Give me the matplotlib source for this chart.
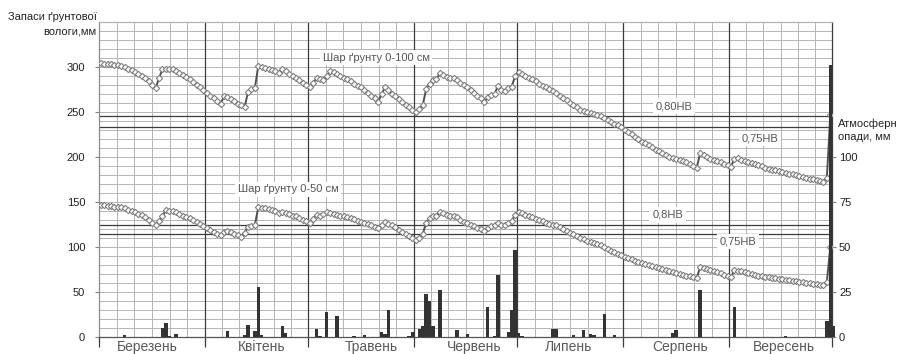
import numpy as np
import matplotlib
matplotlib.use("Agg")
import matplotlib.pyplot as plt

plt.rcParams['font.family'] = ['Liberation Sans', 'DejaVu Sans']

# --- data -----------------------------------------------------------------
months = ['Березень', 'Квітень', 'Травень', 'Червень', 'Липень', 'Серпень', 'Вересень']
month_days = [31, 30, 31, 30, 31, 31, 30]
month_label_pos = [14.2, 47.5, 79.6, 109.5, 137.2, 169.8, 200.1]

# daily soil-water storage, mm (1 March ... 30 September)
layer_100 = [
    304, 303.5, 303, 302.5, 302, 301.5, 301, 300, 298, 296, 294, 292, 290, 288, 284, 280,
    276, 287, 297, 298, 297, 297, 295, 293, 291, 289, 286, 283, 280, 277, 274, 271,
    268, 265, 262, 259, 267, 266, 264, 262, 259, 257, 255, 272, 275, 276, 301, 300,
    299, 297, 296, 295, 293, 297, 295, 292, 290, 287, 285, 282, 280, 277, 282, 287,
    286, 285, 290, 295, 294, 292, 290, 288, 286, 284, 281, 279, 277, 274, 271, 268,
    265, 261, 270, 277, 274, 270, 267, 264, 261, 258, 255, 252, 250, 253, 257, 275,
    281, 285, 286, 293, 291, 289, 287, 288, 285, 282, 280, 277, 274, 271, 268, 265,
    261, 266, 269, 270, 279, 274, 273, 276, 278, 290, 294, 292, 290, 288, 286, 284,
    281, 279, 277, 275, 273, 271, 268, 265, 263, 260, 257, 255, 252, 251, 250, 249,
    248, 247, 245, 243, 241, 239, 237, 235, 233, 230, 228, 225, 222, 220, 217, 215,
    213, 211, 208, 206, 204, 202, 200, 199, 198, 197, 196, 194, 192, 190, 188, 204,
    202, 200, 198, 197, 195, 194, 192, 191, 189, 198, 199, 197, 196, 194, 193, 192,
    191, 190, 188, 187, 186, 185, 184, 183, 182, 181, 180.5, 180, 179, 178, 177, 176,
    175, 174, 173, 172.5, 177, 246,
]
layer_50 = [
    147, 146.5, 146, 145.5, 145, 144.5, 144, 143, 141.5, 140, 138.5, 137, 135.5, 133, 130, 127,
    124.5, 129, 134, 141, 140.5, 140, 138.5, 137, 135, 133.5, 132, 130, 128, 126, 123.5, 121,
    119, 117, 115, 113, 117, 118, 116.5, 115, 113, 111.5, 116, 122.5, 123.5, 124.5, 144, 143.5,
    143, 142, 141, 139.5, 138, 139, 138, 136.5, 135, 134, 132, 130.5, 129, 127, 131, 136,
    135, 137, 139, 138, 137, 136, 135, 134, 133, 132, 131, 129, 128, 127, 125.5, 124,
    122.5, 121, 125, 128, 126, 124, 122, 119.5, 117, 115, 112.5, 110, 108, 110, 114, 127,
    132, 134, 135, 139, 137.5, 136, 134.5, 135, 133, 130, 128, 126.5, 125, 123, 121.5, 120,
    118, 121, 123, 124, 127, 125, 124.5, 127, 129, 136, 139, 137.5, 136, 134.5, 133, 131.5,
    130, 128.5, 127, 126, 125, 124, 122, 120, 118, 116, 114, 112, 110, 108.5, 107, 106,
    104.5, 103, 102, 100, 98, 96, 94.5, 92.5, 91, 89.5, 88, 86.5, 85, 83.5, 82, 81,
    80, 79, 78, 77, 76, 74.5, 73.5, 72.5, 71.5, 70.5, 69.5, 68.5, 67.5, 66.5, 65.5, 78,
    77, 76, 74.5, 73, 72, 71, 69.5, 68, 67, 74.5, 74, 73, 72, 71, 70, 69,
    68.5, 68, 67, 66.5, 66, 65.5, 65, 64.5, 63.5, 63, 62.5, 62, 61.5, 61, 60.5, 60,
    59.5, 59, 58.5, 58, 61.5, 100,
]

# daily precipitation, mm (day index from 1 March, amount)
rain_day = [7, 18, 19, 20, 22, 37, 42, 43, 45, 46, 47, 53, 54, 63, 64, 66, 69, 74, 77,
            82, 83, 84, 90, 91, 93, 94, 95, 96, 97, 99, 104, 107, 113, 115, 116, 119, 120,
            121, 122, 123, 132, 133, 138, 141, 143, 144, 147, 150, 167, 168, 175, 185, 200,
            212, 213, 214]
rain_mm = [1.0, 5.1, 8.0, 0.7, 2.0, 3.5, 1.0, 6.9, 3.5, 27.9, 1.3, 6.3, 2.2, 4.7, 0.7, 14.0,
           11.9, 0.5, 1.0, 3.2, 1.7, 15.3, 0.7, 3.2, 4.7, 6.5, 24.2, 20.3, 6.0, 26.3, 4.1, 1.7,
           16.8, 0.6, 34.3, 2.8, 14.9, 48.4, 2.4, 0.5, 4.7, 4.7, 1.1, 4.1, 1.9, 1.5, 13.0, 1.5,
           2.6, 4.1, 26.3, 16.8, 0.9, 9.3, 151.0, 6.0]

# field-capacity thresholds, mm
thr_100 = {'0,80НВ': 245, '0,75НВ': 233}
thr_50 = {'0,8НВ': 124.5, '0,75НВ': 114.5}

# --- figure ---------------------------------------------------------------
W, H = 898, 354
fig = plt.figure(figsize=(W / 100, H / 100), dpi=100)
x0, x1, y0, y1 = 99, 832, 337.3, 21.6
ax = fig.add_axes([x0 / W, (H - y0) / H, (x1 - x0) / W, (y0 - y1) / H])

total_days = sum(month_days)
bounds = np.concatenate([[0], np.cumsum(month_days)])

ax.set_xlim(0, total_days)
ax.set_ylim(0, 350)

grid_c = '#b4b4b4'
dark_c = '#3c3c3c'

# horizontal grid every 10 mm
for v in range(10, 350, 10):
    ax.axhline(v, color=grid_c, lw=0.7, zorder=1)
# vertical grid: six divisions per month, darker month boundaries
for m in range(len(month_days)):
    for k in range(1, 6):
        ax.axvline(bounds[m] + k * month_days[m] / 6, color=grid_c, lw=0.7, zorder=1)
for b in bounds[1:-1]:
    ax.axvline(b, color=dark_c, lw=0.9, zorder=1.5)

# threshold lines
for v in list(thr_100.values()) + list(thr_50.values()):
    ax.axhline(v, color=dark_c, lw=0.9, zorder=1.5)

# soil-water curves
xd = np.arange(len(layer_100)) + 0.5
for series in (layer_100, layer_50):
    ax.plot(xd, series, color='#505050', lw=1.4, marker='D', ms=3.2,
            mfc='white', mec='#808080', mew=0.8, zorder=3)

# axes styling
ax.set_yticks(range(0, 301, 50))
ax.tick_params(axis='y', direction='out', length=3, width=0.8, color='#808080',
               labelsize=8, labelcolor='#222222', pad=7)
ax.set_xticks(bounds)
ax.set_xticklabels([])
ax.tick_params(axis='x', direction='out', length=7, width=0.9, color=dark_c)
for side, c in (('left', '#8a8a8a'), ('top', '#b4b4b4'), ('bottom', '#555555'), ('right', dark_c)):
    ax.spines[side].set_color(c)
    ax.spines[side].set_linewidth(0.9)

for name, pos in zip(months, month_label_pos):
    ax.text(pos, -11, name, ha='center', va='center', fontsize=10, color='#5a5a5a',
            clip_on=False)

# labels on the curves and thresholds
box = dict(boxstyle='square,pad=0.25', fc='white', ec='none')
lab_kw = dict(ha='center', va='center', fontsize=8, color='#555555', bbox=box, zorder=4)
ax.text(80.9, 310, 'Шар ґрунту 0-100 см', **lab_kw)
ax.text(55.2, 164, 'Шар ґрунту 0-50 см', **lab_kw)
ax.text(167.9, 256.4, '0,80НВ', **lab_kw)
ax.text(193.0, 220.6, '0,75НВ', **lab_kw)
ax.text(166.0, 135.6, '0,8НВ', **lab_kw)
ax.text(186.6, 106.0, '0,75НВ', **lab_kw)

fig.text(96.5 / W, 1 - 16.7 / H, 'Запаси ґрунтової', ha='right', va='center',
         fontsize=8, color='#222222')
fig.text(96.5 / W, 1 - 32.0 / H, 'вологи,мм', ha='right', va='center',
         fontsize=8, color='#222222')

# precipitation on the secondary axis
ax2 = ax.twinx()
ax2.set_ylim(0, 175)
ax2.bar(np.array(rain_day) + 0.5, rain_mm, width=1.0, color='#333333', zorder=5,
        clip_on=False)
ax2.set_yticks([0, 25, 50, 75, 100])
ax2.tick_params(axis='y', direction='out', length=3, width=0.8, color='#808080',
                labelsize=8, labelcolor='#222222', pad=2)
for s in ax2.spines.values():
    s.set_visible(False)
fig.text(838 / W, 1 - 123.5 / H, 'Атмосферн', ha='left', va='center',
         fontsize=8, color='#222222')
fig.text(838 / W, 1 - 137.5 / H, 'опади, мм', ha='left', va='center',
         fontsize=8, color='#222222')

fig.savefig('out.png', dpi=100)
